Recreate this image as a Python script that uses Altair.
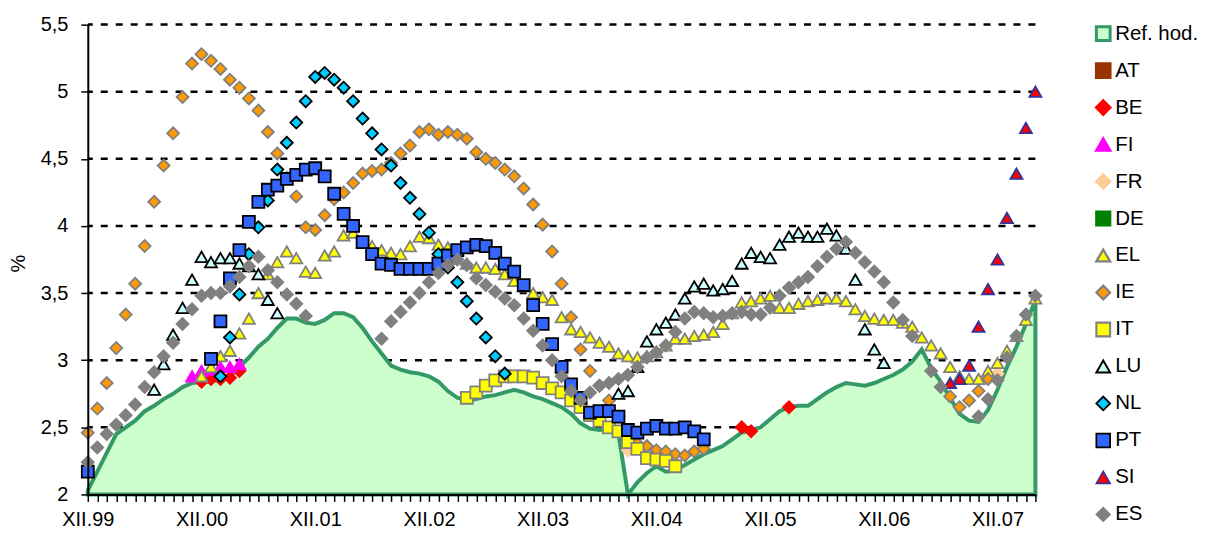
import json
import altair as alt
import pandas as pd

FONT = "Liberation Sans"

X_LABELS = ["XII.99", "XII.00", "XII.01", "XII.02", "XII.03", "XII.04", "XII.05", "XII.06", "XII.07"]
Y_TICKS = [2.0, 2.5, 3.0, 3.5, 4.0, 4.5, 5.0, 5.5]

SERIES = ["Ref. hod.", "AT", "BE", "FI", "FR", "DE", "EL", "IE", "IT", "LU", "NL", "PT", "SI", "ES"]
FILLS = ["#CCFFCC", "#993300", "#FF0000", "#FF00FF", "#FFCC99", "#008000", "#FFFF00", "#FF9900",
         "#FFFF00", "#CCFFFF", "#00CCFF", "#3366FF", "#FF0000", "#808080"]
STROKES = ["#339966", "#993300", "#FF0000", "#FF00FF", "#FFCC99", "#008000", "#808080", "#808080",
           "#808080", "#000000", "#000000", "#000000", "#333399", "#808080"]
SHAPES = ["square", "square", "diamond", "triangle-up", "diamond", "square", "triangle-up", "diamond",
          "square", "triangle-up", "diamond", "square", "triangle-up", "diamond"]
SIZES = [144, 144, 150, 150, 120, 144, 140, 130, 125, 140, 125, 155, 165, 165]
LEGEND_STROKE_WIDTHS = [3, 1.5, 1.5, 1.5, 1.5, 1.5, 1.8, 1.8, 1.8, 1.8, 1.8, 1.8, 1.8, 1.5]

# Reference value (months 0..100, XII.99 .. IV.08)
REF = [2.03, 2.17, 2.31, 2.45, 2.50, 2.55, 2.62, 2.66, 2.71, 2.75,
       2.80, 2.83, 2.84, 2.84, 2.86, 2.88, 2.95, 3.02, 3.10, 3.16,
       3.24, 3.31, 3.31, 3.28, 3.27, 3.30, 3.35, 3.35, 3.32, 3.24,
       3.14, 3.05, 2.96, 2.93, 2.91, 2.90, 2.88, 2.84, 2.77, 2.72,
       2.70, 2.71, 2.73, 2.74, 2.76, 2.78, 2.76, 2.73, 2.71, 2.68,
       2.65, 2.60, 2.53, 2.49, 2.48, 2.49, 2.45, 2.00, 2.09, 2.16,
       2.21, 2.17, 2.18, 2.22, 2.26, 2.30, 2.33, 2.36, 2.41, 2.46,
       2.48, 2.50, 2.56, 2.62, 2.65, 2.66, 2.66, 2.71, 2.76, 2.80,
       2.83, 2.82, 2.81, 2.83, 2.86, 2.89, 2.93, 2.99, 3.08, 2.94,
       2.84, 2.72, 2.60, 2.55, 2.54, 2.63, 2.78, 2.95, 3.10, 3.27,
       3.45]

# Country series: (first month index, values; None = no point)
AT_START, AT = 0, []
BE_START, BE = 12, [2.84, 2.86, 2.86, 2.87, 2.92] + [None] * 52 + [2.50, 2.47, None, None, None, 2.65]
FI_START, FI = 11, [2.88, 2.92, 2.93, 2.95, 2.95, 2.97]
FR_START, FR = 57, [2.33] + [None] * 38 + [2.90]
DE_START, DE = 0, []
EL_START, EL = 12, [2.88, 2.95, 3.03, 3.07, 3.20, 3.31, 3.50, 3.64, 3.73, 3.81,
                    3.76, 3.66, 3.65, 3.78, 3.81, 3.93, 3.95, 3.88, 3.85, 3.82,
                    3.80, 3.79, 3.85, 3.92, 3.91, 3.86, 3.84, 3.76, 3.72, 3.69,
                    3.69, 3.68, 3.64, 3.59, 3.55, 3.50, 3.47, 3.45, 3.32, 3.23,
                    3.21, 3.17, 3.13, 3.10, 3.05, 3.03, 3.02, 3.03, 3.06, 3.11,
                    3.16, 3.16, 3.18, 3.19, 3.21, 3.27, 3.35, 3.43, 3.44, 3.46,
                    3.48, 3.39, 3.39, 3.42, 3.44, 3.45, 3.46, 3.46, 3.44, 3.38,
                    3.33, 3.31, 3.30, 3.30, 3.28, 3.25, 3.17, 3.11, 3.05, 2.95,
                    2.88, 2.86, 2.86, 2.92, 2.98, 3.07, 3.18, 3.30, 3.46]
IE_START, IE = 0, [2.46, 2.64, 2.83, 3.09, 3.34, 3.57, 3.85, 4.18, 4.45, 4.69,
                   4.96, 5.21, 5.28, 5.23, 5.17, 5.09, 5.03, 4.95, 4.86, 4.70,
                   4.54, 4.36, 4.22, 3.99, 3.97, 4.08, 4.20, 4.25, 4.32, 4.39,
                   4.41, 4.42, 4.47, 4.54, 4.60, 4.70, 4.72, 4.68, 4.70, 4.68,
                   4.65, 4.55, 4.50, 4.47, 4.42, 4.37, 4.28, 4.16, 4.01, 3.81,
                   3.57, 3.32, 3.08, 2.92, 2.81, 2.70, 2.58, 2.45, 2.38, 2.36,
                   2.33, 2.32, 2.30, 2.29, 2.32, 2.34] + [None] * 25 + [2.73, 2.65, 2.70, 2.77, 2.86]
IT_START, IT = 40, [2.72, 2.76, 2.81, 2.85, 2.88, 2.88, 2.88, 2.87, 2.83, 2.79,
                    2.76, 2.70, 2.65, 2.59, 2.55, 2.50, 2.47, 2.39, 2.34, 2.27,
                    2.26, 2.25, 2.21]
LU_START, LU = 7, [2.78, 2.97, 3.19, 3.39, 3.60, 3.77, 3.73, 3.76, 3.76, 3.72,
                   3.70, 3.64, 3.45, 3.35] + [None] * 35 + [
                   2.75, 2.77, 2.95, 3.14, 3.23, 3.28, 3.34, 3.46, 3.55, 3.57,
                   3.52, 3.53, 3.59, 3.72, 3.80, 3.77, 3.76, 3.86, 3.92, 3.95,
                   3.92, 3.92, 3.98, 3.93, 3.83, 3.60, 3.23, 3.08, 2.98]
NL_START, NL = 14, [2.88, 3.17, 3.49, 3.79, 3.99, 4.19, 4.42, 4.62, 4.77, 4.93,
                    5.11, 5.14, 5.09, 5.03, 4.93, 4.80, 4.69, 4.57, 4.45, 4.32,
                    4.21, 4.09, 3.95, 3.79, 3.69, 3.58, 3.44, 3.31, 3.17, 3.03,
                    2.90]
PT_START, PT = 0, [2.17] + [None] * 12 + [
                   3.01, 3.29, 3.61, 3.82, 4.03, 4.18, 4.27, 4.30, 4.35, 4.38,
                   4.42, 4.43, 4.37, 4.24, 4.09, 4.00, 3.88, 3.79, 3.72, 3.71,
                   3.68, 3.68, 3.68, 3.68, 3.72, 3.78, 3.82, 3.84, 3.86, 3.85,
                   3.80, 3.72, 3.66, 3.56, 3.41, 3.27, 3.12, 2.95, 2.82, 2.72,
                   2.61, 2.62, 2.62, 2.58, 2.48, 2.46, 2.49, 2.51, 2.49, 2.49,
                   2.50, 2.47, 2.41]
SI_START, SI = 91, [2.83, 2.86, 2.96, 3.25, 3.53, 3.75, 4.06, 4.39, 4.73, 5.00]
ES_START, ES = 0, [2.24, 2.35, 2.45, 2.52, 2.59, 2.67, 2.80, 2.91, 3.03, 3.13,
                   3.27, 3.38, 3.48, 3.50, 3.50, 3.55, 3.62, 3.70, 3.77, 3.67,
                   3.58, 3.49, 3.42, 3.33] + [None] * 7 + [
                   3.16, 3.29, 3.36, 3.43, 3.50, 3.58, 3.65, 3.71, 3.75, 3.71,
                   3.61, 3.56, 3.51, 3.46, 3.41, 3.31, 3.22, 3.11, 3.00, 2.88,
                   2.77, 2.70, 2.76, 2.81, 2.83, 2.86, 2.89, 2.95, 3.02, 3.06,
                   3.11, 3.21, 3.31, 3.36, 3.35, 3.32, 3.33, 3.35, 3.36, 3.34,
                   3.34, 3.39, 3.48, 3.54, 3.58, 3.62, 3.70, 3.77, 3.83, 3.88,
                   3.80, 3.73, 3.66, 3.58, 3.43, 3.30, 3.18] + [None] + [2.92, 2.80] + [None] * 3 + [
                   2.58, 2.71, 2.85, 3.02, 3.18, 3.34, 3.48]

COUNTRY_DATA = [("AT", AT_START, AT), ("BE", BE_START, BE), ("FI", FI_START, FI), ("FR", FR_START, FR),
                ("DE", DE_START, DE), ("EL", EL_START, EL), ("IE", IE_START, IE), ("IT", IT_START, IT),
                ("LU", LU_START, LU), ("NL", NL_START, NL), ("PT", PT_START, PT), ("SI", SI_START, SI),
                ("ES", ES_START, ES)]

rows = []
for name, start, vals in COUNTRY_DATA:
    for k, v in enumerate(vals):
        if v is not None:
            rows.append({"series": name, "i": start + k, "v": v})
points_df = pd.DataFrame(rows)
ref_df = pd.DataFrame({"i": list(range(len(REF))), "v": REF})
grid_df = pd.DataFrame({"g": Y_TICKS[1:]})
legend_df = pd.DataFrame({"series": SERIES})

x_scale = alt.Scale(domain=[0, 100], nice=False, zero=False, padding=0)
y_scale = alt.Scale(domain=[2, 5.5], nice=False, zero=False)
fill_scale = alt.Scale(domain=SERIES, range=FILLS)
stroke_scale = alt.Scale(domain=SERIES, range=STROKES)
shape_scale = alt.Scale(domain=SERIES, range=SHAPES)

x_label_expr = "datum.value % 12 == 0 ? " + json.dumps(X_LABELS) + "[datum.value / 12] : ''"
x_axis = alt.Axis(values=list(range(0, 101)), labelExpr=x_label_expr, labelOverlap=False,
                  labelFlush=False, labelAngle=0, tickSize=7, tickColor="black", tickWidth=1.5,
                  domainColor="black", domainWidth=2, labelFontSize=20, labelColor="black",
                  labelFont=FONT, labelPadding=8, title=None, grid=False, zindex=1)
y_axis = alt.Axis(values=Y_TICKS, labelExpr="replace(format(datum.value, '.1~f'), '.', ',')",
                  labelFlush=False, labelOverlap=False, tickSize=7, tickColor="black", tickWidth=1.5,
                  domainColor="black", domainWidth=2, labelFontSize=20, labelColor="black",
                  labelFont=FONT, labelPadding=13, grid=False, zindex=1,
                  title="%", titleFontSize=20, titleFontWeight="normal", titleFont=FONT,
                  titleColor="black", titleAngle=270, titleX=-69, titleY=239,
                  titleAlign="center", titleBaseline="middle")

X = alt.X("i:Q", scale=x_scale, axis=x_axis)
Y = alt.Y("v:Q", scale=y_scale, axis=y_axis)

grid = alt.Chart(grid_df).mark_rule(color="black", strokeWidth=2.5, strokeDash=[7, 8]).encode(
    y=alt.Y("g:Q", scale=y_scale, axis=y_axis)
)

area = alt.Chart(ref_df).mark_area(fill="#CCFFCC", stroke="#339966", strokeWidth=4,
                                   opacity=1, fillOpacity=1, interpolate="linear").encode(
    x=X, y=Y, y2=alt.datum(2)
)

pts = alt.Chart(points_df).mark_point(filled=True, opacity=1, strokeWidth=1.8).encode(
    x=X, y=Y,
    fill=alt.Fill("series:N", scale=fill_scale, legend=None),
    stroke=alt.Stroke("series:N", scale=stroke_scale, legend=None),
    shape=alt.Shape("series:N", scale=shape_scale, legend=None),
    size=alt.Size("series:N", scale=alt.Scale(domain=SERIES, range=SIZES), legend=None),
)

main = alt.layer(grid, area, pts)

# Legend drawn as its own layer (one row per series, placed right of the plot)
leg_y = alt.Y("series:N", scale=alt.Scale(type="point", domain=SERIES, range=[9, 491], padding=0),
              axis=None)
leg_sym = alt.Chart(legend_df).mark_point(filled=True, opacity=1, size=190).encode(
    x=alt.value(1018), y=leg_y,
    fill=alt.Fill("series:N", scale=fill_scale, legend=None),
    stroke=alt.Stroke("series:N", scale=stroke_scale, legend=None),
    shape=alt.Shape("series:N", scale=shape_scale, legend=None),
    strokeWidth=alt.StrokeWidth("series:N", scale=alt.Scale(domain=SERIES, range=LEGEND_STROKE_WIDTHS),
                                legend=None),
)
leg_txt = alt.Chart(legend_df).mark_text(align="left", baseline="middle", fontSize=20.5, font=FONT,
                                         color="black").encode(
    x=alt.value(1030), y=leg_y, text="series:N"
)
legend_layer = alt.layer(leg_sym, leg_txt)

chart = alt.layer(main, legend_layer).resolve_scale(y="independent").properties(
    width=950, height=471,
    autosize=alt.AutoSizeParams(type="none"),
    padding={"left": 80, "top": 16, "right": 163, "bottom": 38},
).configure(font=FONT).configure_view(stroke=None)

chart.save("out.html", embed_options={"renderer": "svg", "actions": False})
